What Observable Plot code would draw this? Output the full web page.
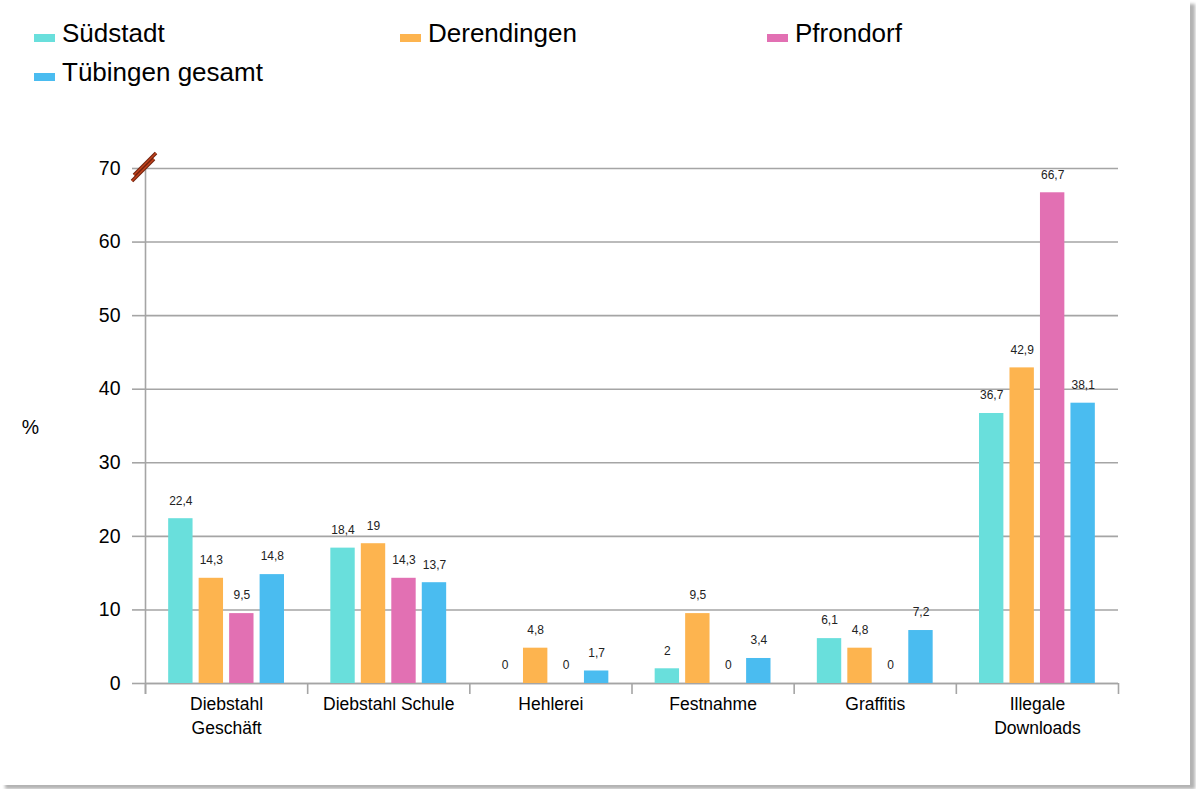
<!DOCTYPE html>
<html><head><meta charset="utf-8">
<script src="https://cdn.jsdelivr.net/npm/d3@7"></script>
<script src="https://cdn.jsdelivr.net/npm/@observablehq/plot@0.6"></script>
<style>
html,body{margin:0;padding:0;background:#fff;}
body{width:1196px;height:789px;overflow:hidden;}
#wrap{position:relative;width:1190px;height:785px;background:#fff;box-shadow:5px 4px 3px #b3b3b3;font-family:"Liberation Sans",Arial,sans-serif;}
#legend{position:relative;height:100px;}
.item{position:absolute;font-size:26px;line-height:30px;color:#000;white-space:nowrap;}
.sw{display:inline-block;width:21px;height:8px;margin-right:7px;}
#chart svg{display:block;}
</style></head><body><div id="wrap"><div id="legend"></div><div id="chart"></div></div>
<script>
const categories = ["Diebstahl\nGeschäft", "Diebstahl Schule", "Hehlerei", "Festnahme", "Graffitis", "Illegale\nDownloads"];
const seriesNames = ["Südstadt", "Derendingen", "Pfrondorf", "Tübingen gesamt"];
const suedstadt   = [22.4, 18.4, 0,   2,   6.1, 36.7];
const derendingen = [14.3, 19,   4.8, 9.5, 4.8, 42.9];
const pfrondorf   = [9.5,  14.3, 0,   0,   0,   66.7];
const tuebingen   = [14.8, 13.7, 1.7, 3.4, 7.2, 38.1];
const colors = ["#69dfdc", "#fdb44f", "#e270b3", "#4abcf0"];
const yTicks = [0, 10, 20, 30, 40, 50, 60, 70];

const seriesValues = [suedstadt, derendingen, pfrondorf, tuebingen];
const rows = [];
seriesValues.forEach((vals, si) => vals.forEach((v, ci) => rows.push({ci, cat: categories[ci], series: seriesNames[si], value: v})));

// inner band layout within each category (category spans one unit on x)
const inner = d3.scaleBand().domain(seriesNames).range([0, 1]).paddingInner(0.2).paddingOuter(0.76);
const bw = inner.bandwidth();
const fmt = v => String(v).replace(".", ",");

// Legend
const legendPos = [[34, 18], [400, 18], [767, 18], [34, 57]];
const legend = document.getElementById("legend");
seriesNames.forEach((s, i) => {
  const d = document.createElement("div");
  d.className = "item";
  d.style.left = legendPos[i][0] + "px";
  d.style.top = legendPos[i][1] + "px";
  d.innerHTML = `<span class="sw" style="background:${colors[i]}"></span>${s}`;
  legend.appendChild(d);
});

const grid = "#a5a5a5";
const boundaries = d3.range(categories.length + 1);
const centers = d3.range(categories.length).map(i => i + 0.5);

const breakMark = (index, scales) => {
  const x0 = scales.x(0), yt = scales.y(70);
  const g = d3.create("svg:g").attr("fill", "none").attr("stroke-linecap", "butt");
  const segs = [[-11, 7, 11, -15], [-13, 13, 9, -9]];
  for (const [a, b, c, e] of segs) {
    g.append("line").attr("x1", x0 + a).attr("y1", yt + b).attr("x2", x0 + c).attr("y2", yt + e)
      .attr("stroke", "#6e200c").attr("stroke-width", 3.6);
    g.append("line").attr("x1", x0 + a).attr("y1", yt + b).attr("x2", x0 + c).attr("y2", yt + e)
      .attr("stroke", "#c4441e").attr("stroke-width", 1.4);
  }
  return g.node();
};

const plot = Plot.plot({
  width: 1190,
  height: 685,
  marginLeft: 145,
  marginRight: 72,
  marginTop: 68,
  marginBottom: 102,
  style: {fontFamily: '"Liberation Sans", Arial, sans-serif', background: "transparent", overflow: "visible"},
  x: {type: "linear", domain: [0, categories.length], axis: null},
  y: {domain: [0, 70], axis: null},
  marks: [
    Plot.gridY(yTicks, {stroke: grid, strokeOpacity: 1, strokeWidth: 1.6}),
    Plot.axisY(yTicks, {tickSize: 13, tickPadding: 12, stroke: grid, strokeWidth: 1.6, fontSize: 19.5, fill: "#000", label: null}),
    Plot.axisX(boundaries, {tickSize: 11, tickFormat: () => "", stroke: grid, strokeWidth: 1.6, label: null}),
    Plot.axisX(centers, {tickSize: 0, tickPadding: 10, tickFormat: d => categories[Math.floor(d)], fontSize: 17.5, lineHeight: 1.34, fill: "#000", label: null}),
    Plot.ruleY([0], {stroke: grid, strokeWidth: 1.6}),
    Plot.ruleX([0], {y1: 70, y2: 0, insetBottom: -11, stroke: grid, strokeWidth: 1.6}),
    Plot.rectY(rows, {
      x1: d => d.ci + inner(d.series),
      x2: d => d.ci + inner(d.series) + bw,
      y1: 0, y2: "value",
      fill: d => colors[seriesNames.indexOf(d.series)]
    }),
    Plot.text(rows, {
      x: d => d.ci + inner(d.series) + bw / 2,
      y: "value",
      text: d => fmt(d.value),
      lineAnchor: "middle",
      dy: -18,
      fontSize: 12,
      fill: "#222"
    }),
    Plot.text(["%"], {frameAnchor: "left", textAnchor: "middle", text: d => d, dx: -115, dy: 2, fontSize: 19.5, fill: "#000"}),
    breakMark
  ]
});
document.getElementById("chart").appendChild(plot);
</script></body></html>
